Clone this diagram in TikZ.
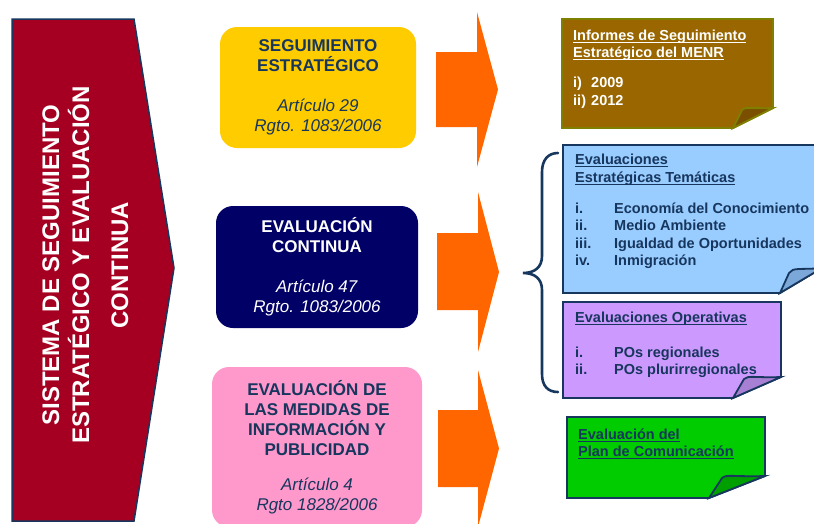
\documentclass[tikz,border=0pt]{standalone}
\usepackage{fontspec}
\setmainfont{Liberation Sans}
\definecolor{redc}{HTML}{A50021}
\definecolor{navyb}{HTML}{17375E}
\definecolor{navyt}{HTML}{17365D}
\definecolor{yellowc}{HTML}{FFCC00}
\definecolor{dblue}{HTML}{000066}
\definecolor{pinkc}{HTML}{FF99CC}
\definecolor{orangec}{HTML}{FF6600}
\definecolor{brownc}{HTML}{996600}
\definecolor{brownb}{HTML}{7F7F00}
\definecolor{brownf}{HTML}{7A5000}
\definecolor{bluen}{HTML}{99CCFF}
\definecolor{bluef}{HTML}{7BA7D9}
\definecolor{purplen}{HTML}{CC99FF}
\definecolor{purplef}{HTML}{A77FD3}
\definecolor{greenn}{HTML}{00CC00}
\definecolor{greenf}{HTML}{009F00}
\newcommand\ulin[1]{\setbox0=\hbox{#1}\rlap{\rule[-3pt]{\wd0}{1.2pt}}\box0}
\begin{document}
\begin{tikzpicture}[x=1pt,y=-1pt,
  sidetxt/.style={rotate=90, anchor=base, inner sep=0pt, text=white,
    font=\bfseries\fontsize{24}{34}\selectfont},
  midbox/.style={rounded corners=17pt, inner sep=0pt, align=center,
    font=\fontsize{17}{20}\selectfont},
  arrowshape/.style={fill=orangec},
  notetxt/.style={anchor=base west, inner sep=0pt,
    font=\bfseries\fontsize{14.5}{17.5}\selectfont},
  noteshape/.style={line width=1.8pt, line join=miter},
  bracestyle/.style={draw=navyb, line width=2.6pt, line cap=round}]
\useasboundingbox (0,0) rectangle (814,523);
\clip (0,0) rectangle (814,523);
\fill[white] (0,0) rectangle (814,523);

% left pentagon
\draw[fill=redc, draw=navyb, line width=1.5pt]
  (12,19) -- (134,19) -- (174,268) -- (134,521) -- (12,521) -- cycle;
\node[sidetxt] (s1) at (59,265) {SISTEMA DE SEGUIMIENTO};
\node[sidetxt] (s2) at (89,265) {ESTRATÉGICO Y EVALUACIÓN};
\node[sidetxt] (s3) at (128,265) {CONTINUA};

% middle boxes
\node[midbox, fill=yellowc, text=navyt, minimum width=196pt, minimum height=121pt] (seg) at (318,87.5) {\textbf{SEGUIMIENTO}\\\textbf{ESTRATÉGICO}\\[20pt]\textit{Artículo 29}\\\textit{Rgto. 1083/2006}};
\node[midbox, fill=dblue, text=white, minimum width=202pt, minimum height=122pt] (eva) at (317,267) {\textbf{EVALUACIÓN}\\\textbf{CONTINUA}\\[20pt]\textit{Artículo 47}\\\textit{Rgto. 1083/2006}};
\node[midbox, fill=pinkc, text=navyt, minimum width=210pt, minimum height=160pt] (pub) at (317,447) {\textbf{EVALUACIÓN DE}\\\textbf{LAS MEDIDAS DE}\\\textbf{INFORMACIÓN Y}\\\textbf{PUBLICIDAD}\\[15pt]\textit{Artículo 4}\\\textit{Rgto 1828/2006}};

% orange arrows
\fill[arrowshape] (436,52) -- (477,52) -- (477,12) -- (498,89.5) -- (477,167) -- (477,127) -- (436,127) -- cycle;
\fill[arrowshape] (437,233) -- (478,233) -- (478,192) -- (499,272) -- (478,352) -- (478,310) -- (437,310) -- cycle;
\fill[arrowshape] (438,410) -- (478,410) -- (478,370) -- (499,448.5) -- (478,527) -- (478,487) -- (438,487) -- cycle;

% brown note
\draw[noteshape, fill=brownc, draw=brownb]
  (562,19) -- (773,19) -- (773,108) -- (733,128) -- (562,128) -- cycle;
\draw[noteshape, fill=brownf, draw=brownb]
  (733,128) -- (742,110) .. controls (746,106) and (755,109) .. (773,108) -- cycle;
\node[notetxt, text=white] (br1) at (573,40) {\ulin{Informes de Seguimiento}};
\node[notetxt, text=white] (br2) at (573,57) {\ulin{Estratégico del MENR}};
\node[notetxt, text=white] (br3) at (573,87) {\makebox[18pt][l]{i)}2009};
\node[notetxt, text=white] (br4) at (573,105) {\makebox[18pt][l]{ii)}2012};

% blue note
\draw[noteshape, fill=bluen, draw=navyb]
  (563,145) -- (822,145) -- (822,268) -- (780,293) -- (563,293) -- cycle;
\draw[noteshape, fill=bluef, draw=navyb]
  (780,293) -- (789,273) .. controls (793,267) and (800,270) .. (822,268) -- cycle;
\node[notetxt, text=navyt] (bl1) at (575,164) {\ulin{Evaluaciones}};
\node[notetxt, text=navyt] (bl2) at (575,182) {\ulin{Estratégicas Temáticas}};
\node[notetxt, text=navyt] (bl3n) at (575,213) {i.};
\node[notetxt, text=navyt] (bl3) at (614,213) {Economía del Conocimiento};
\node[notetxt, text=navyt] (bl4n) at (575,230.5) {ii.};
\node[notetxt, text=navyt] (bl4) at (614,230.5) {Medio Ambiente};
\node[notetxt, text=navyt] (bl5n) at (575,248) {iii.};
\node[notetxt, text=navyt] (bl5) at (614,248) {Igualdad de Oportunidades};
\node[notetxt, text=navyt] (bl6n) at (575,265.5) {iv.};
\node[notetxt, text=navyt] (bl6) at (614,265.5) {Inmigración};

% purple note
\draw[noteshape, fill=purplen, draw=navyb]
  (563,302) -- (781,302) -- (781,377) -- (733,398) -- (563,398) -- cycle;
\draw[noteshape, fill=purplef, draw=navyb]
  (733,398) -- (744,379) .. controls (748,375) and (756,378) .. (781,377) -- cycle;
\node[notetxt, text=navyt] (pu1) at (575,322) {\ulin{Evaluaciones Operativas}};
\node[notetxt, text=navyt] (pu2n) at (575,357) {i.};
\node[notetxt, text=navyt] (pu2) at (614,357) {POs regionales};
\node[notetxt, text=navyt] (pu3n) at (575,374) {ii.};
\node[notetxt, text=navyt] (pu3) at (614,374) {POs plurirregionales};

% green note
\draw[noteshape, fill=greenn, draw=navyb]
  (567,417) -- (765,417) -- (765,476) -- (709,498) -- (567,498) -- cycle;
\draw[noteshape, fill=greenf, draw=navyb]
  (709,498) -- (722,478) .. controls (726,474) and (735,477) .. (765,476) -- cycle;
\node[notetxt, text=navyt] (gr1) at (578,439) {\ulin{Evaluación del}};
\node[notetxt, text=navyt] (gr2) at (578,456) {\ulin{Plan de Comunicación}};

% brace
\draw[bracestyle] (558,153) .. controls (548,153) and (542,160) .. (542,172)
  -- (542,256) .. controls (542,267) and (535,273) .. (523,273)
  .. controls (535,273) and (542,279) .. (542,290)
  -- (542,374) .. controls (542,386) and (548,392) .. (558,392);
\end{tikzpicture}
\end{document}
